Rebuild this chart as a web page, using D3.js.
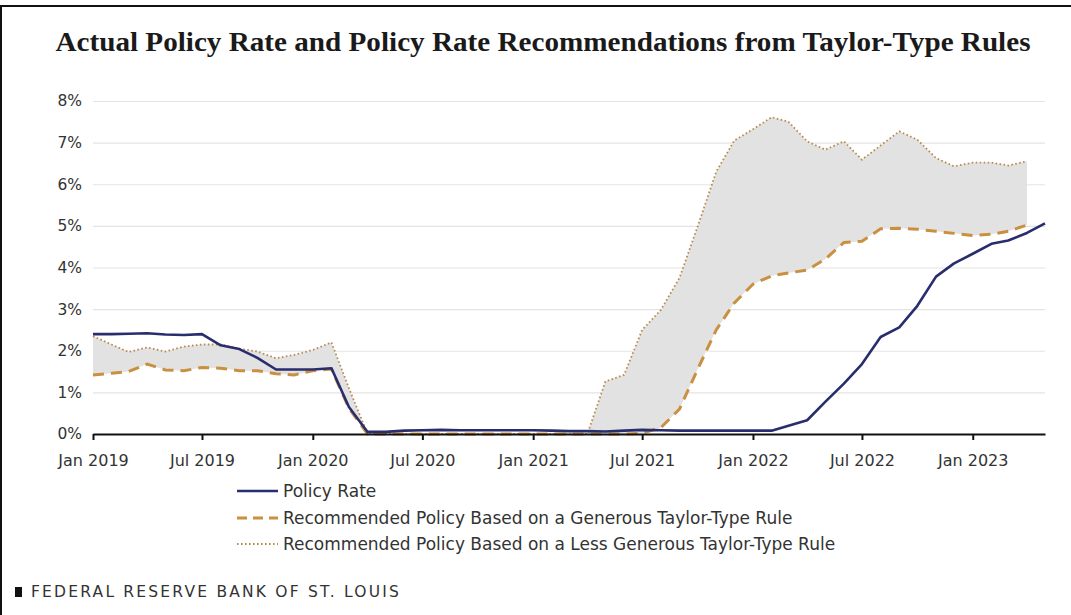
<!DOCTYPE html>
<html>
<head>
<meta charset="utf-8">
<script src="https://cdn.jsdelivr.net/npm/d3@7"></script>
<style>
  body { margin: 0; background: #fff; }
  svg { display: block; }
  .tick text { font-family: "DejaVu Sans", sans-serif; fill: #333; }
</style>
</head>
<body>
<div id="chart-box"></div>
<script>
// monthly observations, Jan 2019 - May 2023
let months = d3.timeMonth.range(new Date(2019, 0, 1), new Date(2023, 5, 1));

let policyRate = [
    2.40, 2.40, 2.41, 2.42, 2.39, 2.38, 2.40, 2.13, 2.04, 1.83, 1.55, 1.55,
    1.55, 1.58, 0.65, 0.05, 0.05, 0.08, 0.09, 0.10, 0.09, 0.09, 0.09, 0.09,
    0.09, 0.08, 0.07, 0.07, 0.06, 0.08, 0.10, 0.09, 0.08, 0.08, 0.08, 0.08,
    0.08, 0.08, 0.20, 0.33, 0.77, 1.21, 1.68, 2.33, 2.56, 3.08, 3.78, 4.10,
    4.33, 4.57, 4.65, 4.83, 5.06
];

// the two rule series stop in Apr 2023
let generousRule = [
    1.42, 1.46, 1.50, 1.68, 1.54, 1.52, 1.60, 1.58, 1.52, 1.52, 1.45, 1.42,
    1.52, 1.56, 0.62, 0.00, 0.00, 0.00, 0.00, 0.00, 0.00, 0.00, 0.00, 0.00,
    0.00, 0.00, 0.00, 0.00, 0.00, 0.00, 0.02, 0.15, 0.60, 1.55, 2.50, 3.15,
    3.60, 3.80, 3.87, 3.94, 4.20, 4.60, 4.63, 4.93, 4.94, 4.92, 4.87, 4.82,
    4.77, 4.80, 4.87, 5.02
];

let lessGenerousRule = [
    2.35, 2.15, 1.97, 2.08, 1.98, 2.10, 2.15, 2.15, 2.05, 1.98, 1.82, 1.90,
    2.02, 2.20, 1.10, 0.00, 0.00, 0.00, 0.00, 0.00, 0.00, 0.00, 0.00, 0.00,
    0.00, 0.00, 0.00, 0.00, 1.26, 1.42, 2.50, 2.98, 3.75, 4.98, 6.30, 7.05,
    7.32, 7.61, 7.50, 7.03, 6.83, 7.03, 6.59, 6.93, 7.27, 7.07, 6.63, 6.43,
    6.52, 6.52, 6.45, 6.55
];

let yTicks = [0, 1, 2, 3, 4, 5, 6, 7, 8];
let xTicks = d3.timeMonth.every(6).range(new Date(2019, 0, 1), new Date(2023, 1, 1));

let legendLabels = [
    "Policy Rate",
    "Recommended Policy Based on a Generous Taylor-Type Rule",
    "Recommended Policy Based on a Less Generous Taylor-Type Rule"
];

let width = 1071,
    height = 615,
    navy = "#282d6e",
    tan = "#c99040",
    dotColor = "#b98a4c";

let svg = d3.select("#chart-box").append("svg")
    .attr("width", width)
    .attr("height", height);

// frame (top + left only)
svg.append("path")
    .attr("d", "M1,615 V6 H1071")
    .attr("fill", "none")
    .attr("stroke", "#111")
    .attr("stroke-width", 2);

svg.append("text")
    .attr("x", 543)
    .attr("y", 51)
    .attr("text-anchor", "middle")
    .attr("textLength", 975)
    .attr("lengthAdjust", "spacingAndGlyphs")
    .style("font-family", "'Liberation Serif', 'Times New Roman', serif")
    .style("font-weight", "bold")
    .style("font-size", "27px")
    .style("fill", "#1a1a1a")
    .text("Actual Policy Rate and Policy Rate Recommendations from Taylor-Type Rules");

let x = d3.scaleTime()
    .domain([months[0], months[months.length - 1]])
    .range([93, 1045]);

let y = d3.scaleLinear()
    .domain([0, 8])
    .range([434, 101]);

// gridlines + y labels
svg.append("g")
    .attr("transform", "translate(93,0)")
    .call(d3.axisLeft(y)
        .tickValues(yTicks)
        .tickFormat(function(d) { return d + "%"; })
        .tickSize(-(1045 - 93))
        .tickPadding(11))
    .call(function(g) {
        g.select(".domain").remove();
        g.selectAll(".tick line").attr("stroke", "#e4e4e4").attr("stroke-width", 1.2);
        g.selectAll(".tick text").style("font-size", "15.5px");
    });

let rules = months.slice(0, generousRule.length).map(function(d, i) {
    return { date: d, low: generousRule[i], high: lessGenerousRule[i] };
});

let band = d3.area()
    .x(function(d) { return x(d.date); })
    .y0(function(d) { return y(d.low); })
    .y1(function(d) { return y(d.high); });

svg.append("path")
    .datum(rules)
    .attr("d", band)
    .attr("fill", "#e2e2e2");

let line = d3.line()
    .x(function(d, i) { return x(months[i]); })
    .y(function(d) { return y(d); });

svg.append("path")
    .datum(lessGenerousRule)
    .attr("d", line)
    .attr("fill", "none")
    .attr("stroke", dotColor)
    .attr("stroke-width", 1.8)
    .attr("stroke-dasharray", "1.6,2.4");

svg.append("path")
    .datum(generousRule)
    .attr("d", line)
    .attr("fill", "none")
    .attr("stroke", tan)
    .attr("stroke-width", 3)
    .attr("stroke-dasharray", "11,7");

svg.append("path")
    .datum(policyRate)
    .attr("d", line)
    .attr("fill", "none")
    .attr("stroke", navy)
    .attr("stroke-width", 2.6)
    .attr("stroke-linejoin", "round");

// x axis
svg.append("g")
    .attr("transform", "translate(0,434)")
    .call(d3.axisBottom(x)
        .tickValues(xTicks)
        .tickFormat(d3.timeFormat("%b %Y"))
        .tickSize(6)
        .tickSizeOuter(0)
        .tickPadding(15))
    .call(function(g) {
        g.select(".domain").attr("stroke", "#111").attr("stroke-width", 2.2);
        g.selectAll(".tick line").attr("stroke", "#111").attr("stroke-width", 2);
        g.selectAll(".tick text").style("font-size", "16px");
    });

// legend
let legend = svg.append("g").attr("transform", "translate(237,0)");
let legendY = [491, 518, 544];
let legendStyles = [
    { stroke: navy, width: 2.6, dash: null },
    { stroke: tan, width: 3, dash: "10,6" },
    { stroke: dotColor, width: 1.8, dash: "1.6,2.4" }
];

legendLabels.forEach(function(label, i) {
    legend.append("line")
        .attr("x1", 0).attr("x2", 41)
        .attr("y1", legendY[i]).attr("y2", legendY[i])
        .attr("stroke", legendStyles[i].stroke)
        .attr("stroke-width", legendStyles[i].width)
        .attr("stroke-dasharray", legendStyles[i].dash);
    legend.append("text")
        .attr("x", 46)
        .attr("y", legendY[i])
        .attr("dy", "0.35em")
        .style("font-family", "'DejaVu Sans', sans-serif")
        .style("font-size", "17px")
        .style("fill", "#333")
        .text(label);
});

// footer
svg.append("rect")
    .attr("x", 15).attr("y", 587)
    .attr("width", 7).attr("height", 10)
    .attr("fill", "#111");

svg.append("text")
    .attr("x", 31)
    .attr("y", 592)
    .attr("dy", "0.35em")
    .style("font-family", "'DejaVu Sans', sans-serif")
    .style("font-size", "15.5px")
    .style("letter-spacing", "2.2px")
    .style("fill", "#333")
    .text("FEDERAL RESERVE BANK OF ST. LOUIS");
</script>
</body>
</html>
